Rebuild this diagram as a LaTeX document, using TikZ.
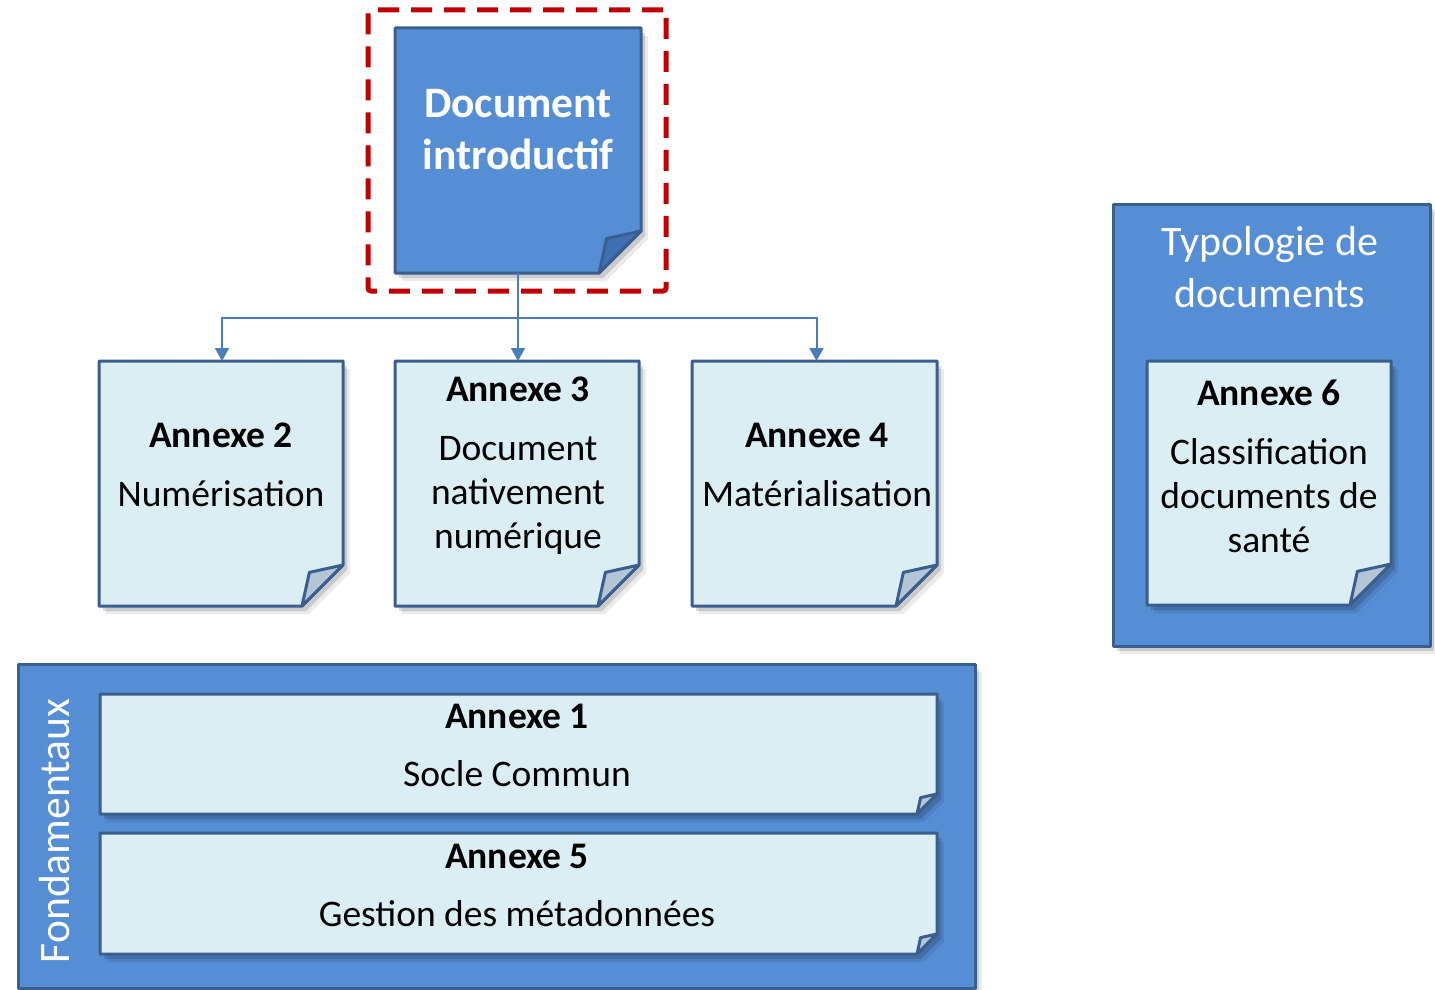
\documentclass[tikz,border=0pt]{standalone}
\usepackage{fontspec}
\setmainfont{Carlito}
\usetikzlibrary{arrows.meta,calc}
\definecolor{dblue}{HTML}{558ED5}
\definecolor{lblue}{HTML}{DBEEF4}
\definecolor{bordc}{HTML}{3A5F8E}
\definecolor{foldl}{HTML}{B4C6D6}
\definecolor{foldd}{HTML}{3F6FB3}
\definecolor{connc}{HTML}{4A7EBB}
\definecolor{selred}{HTML}{C00000}
\tikzset{
  holder/.style={rectangle, inner sep=0pt, outer sep=0pt},
  pageline/.style={draw=bordc, line width=3pt, line join=round},
  conn/.style={draw=connc, line width=2pt, -{Triangle[width=14pt,length=13pt]}},
  lbl/.style={align=center, inner sep=0pt, font=\fontsize{37.5}{44}\selectfont},
  wlbl/.style={align=center, inner sep=0pt, text=white},
  selbox/.style={holder, draw=selred, line width=5pt, dash pattern=on 21pt off 12pt, rounded corners=3pt},
}
\newcommand\docshape[4]{%
  \fill[black,opacity=.08] ($(#1.north west)+(7,8)$) -- ($(#1.north east)+(7,8)$) -- ($(#1.south east)+(7,8-#2)$) -- ($(#1.south east)+(7-#2,8)$) -- ($(#1.south west)+(7,8)$) -- cycle;
  \fill[black,opacity=.14] ($(#1.north west)+(4,5)$) -- ($(#1.north east)+(4,5)$) -- ($(#1.south east)+(4,5-#2)$) -- ($(#1.south east)+(4-#2,5)$) -- ($(#1.south west)+(4,5)$) -- cycle;
  \path[pageline,fill=#3] (#1.north west) -- (#1.north east) -- ($(#1.south east)+(0,-#2)$) -- ($(#1.south east)+(-#2,0)$) -- (#1.south west) -- cycle;
  \path[pageline,fill=#4] ($(#1.south east)+(0,-#2)$) -- ($(#1.south east)+(-#2,0)$) -- ($(#1.south east)+(-0.82*#2,-0.82*#2)$) -- cycle;
}
\newcommand\contshape[1]{%
  \fill[black,opacity=.08] ($(#1.north west)+(7,8)$) rectangle ($(#1.south east)+(7,8)$);
  \fill[black,opacity=.14] ($(#1.north west)+(4,5)$) rectangle ($(#1.south east)+(4,5)$);
  \path[pageline,fill=dblue] (#1.north west) rectangle (#1.south east);
}
\begin{document}
\begin{tikzpicture}[x=1pt,y=-1pt]
\useasboundingbox (0,0) rectangle (1435,990);
% placeholders
\node[holder, minimum width=246pt, minimum height=245pt] (di) at (518,150.5) {};
\node[selbox, minimum width=298pt, minimum height=281pt] (sel) at (517,150.5) {};
\node[holder, minimum width=244pt, minimum height=245pt] (a2) at (221,483.5) {};
\node[holder, minimum width=244pt, minimum height=245pt] (a3) at (517,483.5) {};
\node[holder, minimum width=245pt, minimum height=245pt] (a4) at (814.5,483.5) {};
\node[holder, minimum width=317pt, minimum height=442pt] (typ) at (1271.5,425) {};
\node[holder, minimum width=244pt, minimum height=244pt] (a6) at (1269,483) {};
\node[holder, minimum width=957pt, minimum height=324pt] (fond) at (496.5,826) {};
\node[holder, minimum width=837pt, minimum height=120pt] (a1) at (518.5,754) {};
\node[holder, minimum width=837pt, minimum height=121pt] (a5) at (518.5,893.5) {};
\coordinate (bus) at (519,318);
% shapes
\docshape{di}{42}{dblue}{foldd}
\docshape{a2}{41}{lblue}{foldl}
\docshape{a3}{41}{lblue}{foldl}
\docshape{a4}{41}{lblue}{foldl}
\contshape{typ}
\docshape{a6}{41}{lblue}{foldl}
\contshape{fond}
\docshape{a1}{20}{lblue}{foldl}
\docshape{a5}{20}{lblue}{foldl}
% connectors
\draw[conn] (di.south) -- (di.south |- bus) -| ([xshift=1pt]a2.north);
\draw[conn] (di.south) -- (di.south |- bus) -- (a3.north -| di.south);
\draw[conn] (di.south) -- (di.south |- bus) -| ([xshift=2pt]a4.north);
% texts
\node[wlbl, font=\bfseries\fontsize{43.5}{52}\selectfont] (dit) at (518,130) {Document\\introductif};
\node[lbl] (a2t) at (221,465) {\textbf{Annexe 2}\\[15pt]Numérisation};
\node[lbl] (a3t) at (518,466) {\textbf{Annexe 3}\\[15pt]Document\\nativement\\numérique};
\node[lbl] (a4t) at (817,465) {\textbf{Annexe 4}\\[15pt]Matérialisation};
\node[wlbl, font=\fontsize{42}{52}\selectfont] (typt) at (1270,267) {Typologie de\\documents};
\node[lbl] (a6t) at (1269,466) {\textbf{Annexe 6}\\[15pt]Classification\\documents de\\santé};
\node[wlbl, font=\fontsize{43.5}{52}\selectfont, rotate=90] (fondt) at (55,831) {Fondamentaux};
\node[lbl] (a1t) at (517,745) {\textbf{Annexe 1}\\[14pt]Socle Commun};
\node[lbl] (a5t) at (517,885) {\textbf{Annexe 5}\\[14pt]Gestion des métadonnées};
\end{tikzpicture}
\end{document}
